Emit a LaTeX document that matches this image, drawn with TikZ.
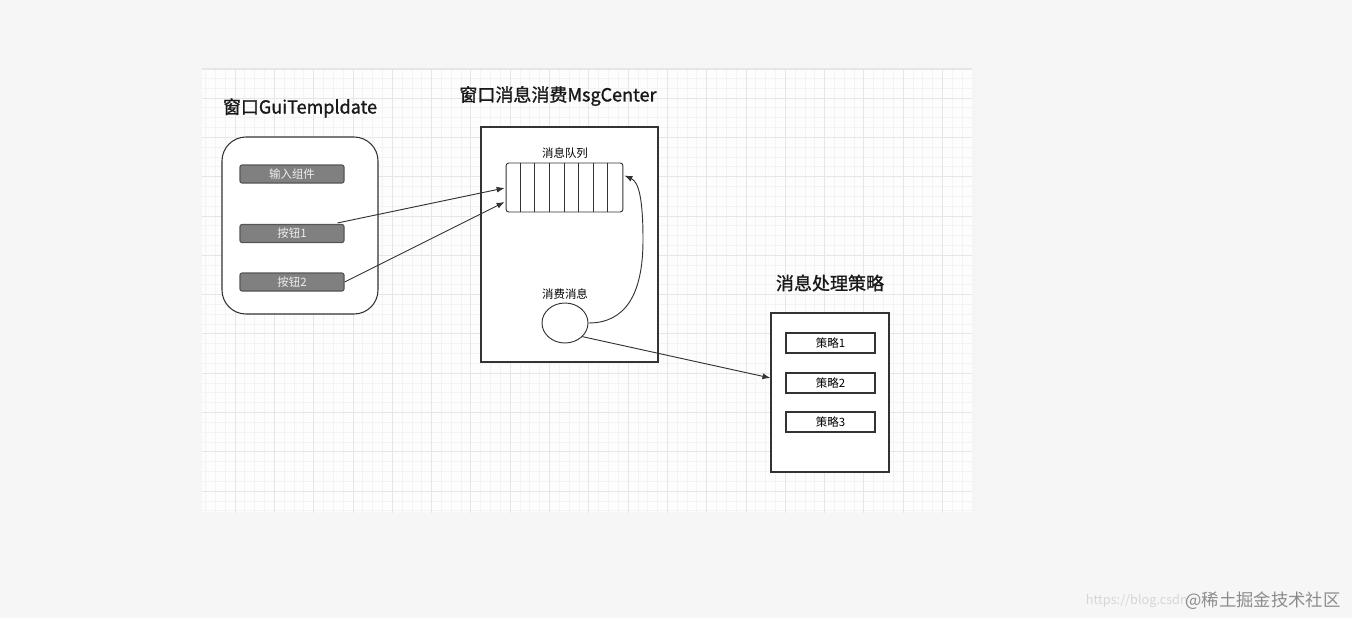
\documentclass[tikz,border=0pt]{standalone}
\usepackage{fontspec}
\setmainfont{Noto Sans CJK SC}
\newfontfamily\titlefont[FakeBold=1.2]{Noto Sans CJK SC}
\usetikzlibrary{arrows.meta,shapes.geometric,calc}
\definecolor{bgc}{HTML}{F6F6F6}
\definecolor{gridbg}{HTML}{FDFDFD}
\definecolor{minorc}{HTML}{F3F3F3}
\definecolor{majorc}{HTML}{E6E6E6}
\definecolor{linec}{HTML}{333333}
\definecolor{barfill}{HTML}{808080}
\definecolor{barline}{HTML}{555555}
\definecolor{bartext}{HTML}{EEEEEE}
\definecolor{wmlight}{HTML}{D6D6D6}
\definecolor{wmdark}{HTML}{8C8C8C}
\begin{document}
\begin{tikzpicture}[x=0.75pt,y=-0.75pt,
  title/.style={font=\fontsize{13.5pt}{15pt}\titlefont, text=black!90, inner sep=0pt},
  small/.style={font=\fontsize{8.6pt}{10pt}\selectfont},
  frame/.style={draw=linec, line width=0.8pt, fill=white},
  bar/.style={draw=barline, line width=0.8pt, fill=barfill, rounded corners=1.5pt, text=bartext,
     small, minimum width=78pt, minimum height=13.5pt, inner sep=0pt},
  strat/.style={draw=linec, line width=0.8pt, fill=white, text=black,
     small, minimum width=66.75pt, minimum height=15pt, inner sep=0pt},
  conn/.style={draw=linec, line width=0.7pt, -{Latex[length=6pt,width=4.5pt]}},
  minorl/.style={draw=minorc, line width=0.5pt},
  majorl/.style={draw=majorc, line width=0.6pt}]
\useasboundingbox (0,0) rectangle (1352,618);
\fill[bgc] (0,0) rectangle (1352,618);
% grid area
\fill[gridbg] (202,69) rectangle (972,512);
\begin{scope}
\clip (202,69) rectangle (972,512);
\foreach \i in {-4,...,80} {
  \draw[minorl] ({235+9.825*\i},60) -- ({235+9.825*\i},520);
}
\foreach \i in {-4,...,46} {
  \draw[minorl] (195,{98+9.825*\i}) -- (980,{98+9.825*\i});
}
\foreach \i in {-1,...,20} {
  \draw[majorl] ({235+39.3*\i},60) -- ({235+39.3*\i},520);
}
\foreach \i in {-1,...,11} {
  \draw[majorl] (195,{98+39.3*\i}) -- (980,{98+39.3*\i});
}
\end{scope}
\draw[draw=majorc, line width=0.8pt] (202,69) -- (972,69);
\fill[black!4] (972,69) rectangle (978,512);

% left window
\node[title] (t1) at (300,108) {窗口GuiTempldate};
\node[frame, rounded corners=18pt, minimum width=117pt, minimum height=132.75pt] (lb) at (300,225.5) {};
\node[bar] (inp) at (292,174) {输入组件};
\node[bar] (btn1) at (292,233.5) {按钮1};
\node[bar] (btn2) at (292,282) {按钮2};

% middle
\node[title] (t2) at (558,96) {窗口消息消费MsgCenter};
\node[frame, minimum width=132.75pt, minimum height=176.25pt] (mb) at (569.5,244.5) {};
\node[small, text=black, inner sep=0pt] (ql) at (565,153) {消息队列};
\node[draw=linec, line width=0.7pt, fill=white, rounded corners=2pt, minimum width=87.6pt, minimum height=36.75pt, inner sep=0pt] (q) at (564.5,187.5) {};
\foreach \k in {1,...,7} {
  \draw[linec, line width=0.7pt] ($(q.north west)+({14.6*\k},0)$) -- ($(q.south west)+({14.6*\k},0)$);
}
\node[small, text=black, inner sep=0pt] (el) at (565,294) {消费消息};
\node[ellipse, draw=linec, line width=0.7pt, fill=white, minimum width=34.5pt, minimum height=30pt, inner sep=0pt] (e) at (565,323) {};

% right
\node[title] (t3) at (830,283) {消息处理策略};
\node[frame, minimum width=88.5pt, minimum height=119.25pt] (rb) at (830,392.5) {};
\node[strat] (s1) at (830.5,343) {策略1};
\node[strat] (s2) at (830.5,383) {策略2};
\node[strat] (s3) at (830.5,422) {策略3};

% connectors
\coordinate (b1s) at ($(btn1.north east)+(-7,-1)$);
\coordinate (q1) at ($(q.west)+(-1,0.5)$);
\coordinate (q2) at ($(q.west)+(-1,14.5)$);
\draw[conn] (b1s) -- (q1);
\draw[conn] (btn2.east) -- (q2);
\coordinate (qtip) at ($(q.east)+(1,-12)$);
\coordinate (cv) at (643,240);
\draw[conn] (e.east) .. controls (625,323) and (643,295) .. (cv) .. controls (643,200) and (639,182) .. (qtip);
\coordinate (rtip) at ($(rb.west)+(0,-14.5)$);
\draw[conn] (e.-38) -- (rtip);

% watermark
\node[font=\fontsize{9.5pt}{11pt}\selectfont, text=wmlight, anchor=east, inner sep=0pt] (wm1) at (1188,601) {https://blog.csdn};
\node[font=\fontsize{13pt}{15pt}\selectfont, text=wmdark, anchor=west, inner sep=0pt] (wm2) at (1185,601) {@稀土掘金技术社区};
\end{tikzpicture}
\end{document}
